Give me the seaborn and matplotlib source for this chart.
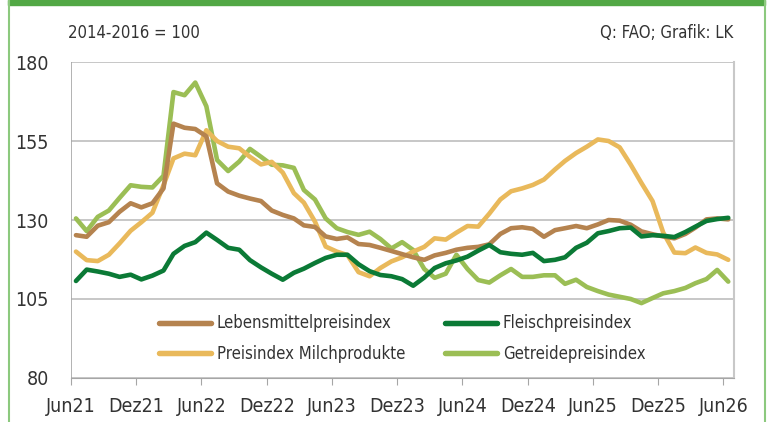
import pandas as pd
import seaborn as sns
import matplotlib.pyplot as plt
from matplotlib import font_manager
from matplotlib.lines import Line2D
from matplotlib.patches import Rectangle

# FAO-Preisindizes, monatlich Jun21 - Jun26 (2014-2016 = 100)
lebensmittel = [125.2, 124.7, 128.2, 129.3, 132.6, 135.3, 134.0, 135.3, 140.0, 160.5,
                159.2, 158.8, 156.5, 141.6, 139.0, 137.7, 136.8, 136.0, 133.0, 131.6,
                130.5, 128.3, 127.8, 124.8, 124.0, 124.5, 122.4, 122.1, 121.2, 120.2,
                119.2, 118.2, 117.4, 118.8, 119.6, 120.6, 121.2, 121.5, 122.3, 125.6,
                127.4, 127.7, 127.2, 124.7, 126.8, 127.4, 128.1, 127.4, 128.6, 130.0,
                129.8, 128.5, 126.4, 125.5, 124.8, 124.2, 125.6, 127.6, 130.2, 130.5, 130.2]
fleisch = [110.7, 114.3, 113.7, 113.0, 112.0, 112.7, 111.2, 112.4, 114.0, 119.3,
           121.8, 123.0, 126.0, 123.7, 121.2, 120.6, 117.3, 115.0, 113.0, 111.1,
           113.3, 114.6, 116.4, 118.0, 119.0, 119.0, 116.0, 113.8, 112.6, 112.2,
           111.3, 109.2, 111.8, 114.8, 116.3, 117.2, 118.4, 120.3, 122.1, 119.8,
           119.3, 119.0, 119.6, 117.0, 117.4, 118.2, 121.2, 122.8, 125.8, 126.5,
           127.4, 127.6, 124.8, 125.2, 125.0, 124.6, 126.2, 127.9, 129.7, 130.3, 130.7]
milch = [120.0, 117.3, 117.0, 119.0, 122.6, 126.6, 129.3, 132.3, 141.0, 149.5,
         151.0, 150.5, 158.4, 155.0, 153.2, 152.7, 150.0, 147.6, 148.4, 145.0,
         138.5, 135.5, 129.5, 121.6, 120.0, 118.9, 113.5, 112.2, 114.8, 116.9,
         118.2, 120.0, 121.5, 124.2, 123.8, 126.0, 128.1, 127.9, 132.0, 136.5,
         139.1, 140.0, 141.1, 142.8, 146.0, 148.7, 151.2, 153.2, 155.5, 155.0,
         153.0, 147.5, 141.7, 136.0, 126.0, 119.7, 119.5, 121.3, 119.6, 119.1, 117.4]
getreide = [130.5, 126.5, 131.0, 133.0, 137.0, 141.0, 140.5, 140.3, 144.0, 170.5,
            169.5, 173.5, 166.0, 149.0, 145.5, 148.5, 152.5, 150.0, 147.5, 147.3,
            146.5, 139.5, 136.5, 130.5, 127.4, 126.2, 125.3, 126.3, 124.0, 121.0,
            123.0, 120.5, 114.5, 111.7, 113.0, 119.0, 114.5, 111.0, 110.2, 112.5,
            114.5, 112.0, 112.0, 112.5, 112.5, 109.8, 111.1, 108.8, 107.5, 106.4,
            105.7, 105.0, 103.7, 105.3, 106.8, 107.5, 108.5, 110.0, 111.3, 114.2, 110.5]

monate = pd.date_range("2021-06-01", periods=61, freq="MS") + pd.Timedelta(days=14)
tick_labels = ["Jun21", "Dez21", "Jun22", "Dez22", "Jun23", "Dez23",
               "Jun24", "Dez24", "Jun25", "Dez25", "Jun26"]

sns.set_style("white")

# schmale Schrift suchen, sonst Roboto
schmal = None
for f in font_manager.fontManager.ttflist:
    if ("Condensed" in f.fname or "Narrow" in f.fname) and "Bold" not in f.fname and "Oblique" not in f.fname and "Italic" not in f.fname:
        schmal = f
        break
if schmal is not None:
    plt.rcParams["font.family"] = [schmal.name, "DejaVu Sans"]
    plt.rcParams["font.stretch"] = schmal.stretch
    fs = 13
else:
    plt.rcParams["font.family"] = ["Roboto", "DejaVu Sans"]
    fs = 12

fig = plt.figure(figsize=(7.68, 4.22), dpi=100)
ax = fig.add_axes([0.0924, 0.1043, 0.8633, 0.7487])

lw = 3.3
serien = [("Lebensmittelpreisindex", lebensmittel, "#B5834F"),
          ("Preisindex Milchprodukte", milch, "#E9B95B"),
          ("Fleischpreisindex", fleisch, "#0B7A36"),
          ("Getreidepreisindex", getreide, "#9BBE55")]
# zeichnen in der Reihenfolge des Originals (Fleisch oben)
for name in ["Getreidepreisindex", "Preisindex Milchprodukte", "Lebensmittelpreisindex", "Fleischpreisindex"]:
    for n, werte, farbe in serien:
        if n == name:
            sns.lineplot(x=monate, y=werte, color=farbe, linewidth=lw, ax=ax,
                         solid_joinstyle="round", solid_capstyle="round")

ax.set_ylim(80, 180)
ax.set_yticks([80, 105, 130, 155, 180])
ax.set_xlim(pd.Timestamp("2021-06-01"), pd.Timestamp("2026-07-01"))
ax.set_xticks(pd.date_range("2021-06-01", "2026-06-01", freq="6MS"))
ax.set_xticklabels(tick_labels)
ax.set_xlabel("")
ax.set_ylabel("")

ax.grid(axis="y", color="#BDBDBD", linewidth=1.2)
for s in ["top", "left"]:
    ax.spines[s].set_visible(False)
ax.spines["bottom"].set_color("#A6A6A6")
ax.spines["right"].set_color("#C8C8C8")
ax.spines["right"].set_linewidth(1.5)
ax.tick_params(axis="y", length=0, pad=16, labelsize=fs + 1, labelcolor="#333333")
ax.tick_params(axis="x", bottom=True, direction="out", length=5, color="#A6A6A6",
               pad=9, labelsize=fs + 1, labelcolor="#333333")
ax.axvline(pd.Timestamp("2021-06-01"), color="#A6A6A6", linewidth=1.2)

handles = [Line2D([0], [0], color=f, linewidth=lw * 1.2) for _, _, f in serien]
ax.legend(handles, [n for n, _, _ in serien], ncol=2, loc="lower center",
          bbox_to_anchor=(0.5, 0.0), frameon=False, fontsize=fs - 1,
          handlelength=3.1, handletextpad=0.35, columnspacing=2.4, labelspacing=0.75,
          labelcolor="#333333")

fig.text(0.088, 0.922, "2014-2016 = 100", fontsize=fs - 1, color="#333333", va="center")
fig.text(0.955, 0.922, "Q: FAO; Grafik: LK", fontsize=fs - 1, color="#333333",
         va="center", ha="right")

# Rahmen
fig.patches.append(Rectangle((0.0105, 0.988), 0.986, 0.012, transform=fig.transFigure,
                             color="#52A845", zorder=0))
fig.lines.append(Line2D([0.0115, 0.0115], [0, 1], transform=fig.transFigure,
                        color="#8CC97E", linewidth=1.5))
fig.lines.append(Line2D([0.996, 0.996], [0, 1], transform=fig.transFigure,
                        color="#8CC97E", linewidth=1.5))

fig.savefig("out.png", dpi=100)
